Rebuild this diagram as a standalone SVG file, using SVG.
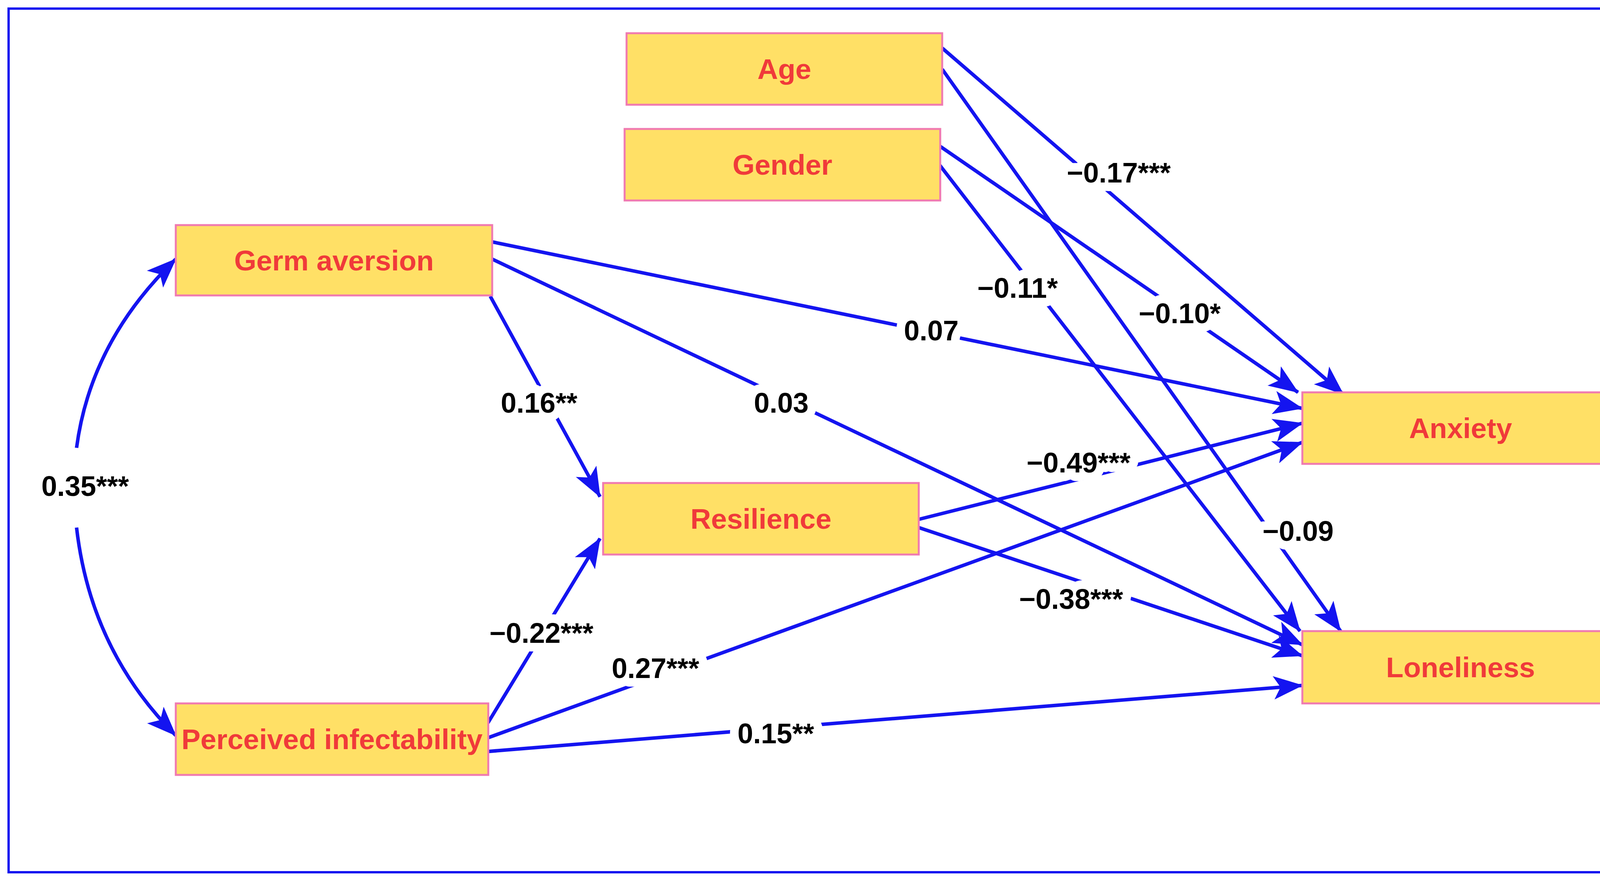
<svg xmlns="http://www.w3.org/2000/svg" width="4278" height="2257" viewBox="0 0 4278 2257">
<style>
.n rect{fill:#ffe066;stroke:#f07ab0;stroke-width:5}
.n text{font-family:"Liberation Sans",Arial,sans-serif;font-weight:bold;font-size:73px;fill:#f03a3a;text-anchor:middle;dominant-baseline:central}
.e path{fill:none;stroke:#1414f0;stroke-width:9}
.l text{font-family:"Liberation Sans",Arial,sans-serif;font-weight:bold;font-size:72px;fill:#000;text-anchor:middle;dominant-baseline:central;stroke:#fff;stroke-width:44;paint-order:stroke;stroke-linejoin:round}
</style>
<defs>
<marker id="a" markerUnits="userSpaceOnUse" markerWidth="76" markerHeight="60" refX="74" refY="30" orient="auto">
<path d="M0,0 L76,30 L0,60 L18,30 Z" fill="#1414f0"/>
</marker>
</defs>
<rect x="22" y="22" width="4228" height="2210" fill="#fff" stroke="#1414f0" stroke-width="6"/>
<g id="connectors" class="e">
<path d="M2412,123 L3439,1009" marker-end="url(#a)"/>
<path d="M2412,177 L3432,1615" marker-end="url(#a)"/>
<path d="M2406,374 L3323,1004" marker-end="url(#a)"/>
<path d="M2406,423 L3328,1615" marker-end="url(#a)"/>
<path d="M1260,619 L3334,1045" marker-end="url(#a)"/>
<path d="M1260,663 L3334,1650" marker-end="url(#a)"/>
<path d="M1255,758 L1536,1271" marker-end="url(#a)"/>
<path d="M2352,1329 L3334,1083" marker-end="url(#a)"/>
<path d="M2352,1350 L3334,1678" marker-end="url(#a)"/>
<path d="M1249,1850 L1536,1378" marker-end="url(#a)"/>
<path d="M1249,1888 L3334,1132" marker-end="url(#a)"/>
<path d="M1249,1923 L3334,1754" marker-end="url(#a)"/>
<path d="M196,1146 Q232,873 450,663" marker-end="url(#a)"/>
<path d="M196,1350 Q232,1664 450,1882" marker-end="url(#a)"/>
</g>
<g id="labels" class="l">
<text x="2864" y="442">−0.17***</text>
<text x="3323" y="1359">−0.09</text>
<text x="3020" y="802">−0.10*</text>
<text x="2605" y="737">−0.11*</text>
<text x="2384" y="846">0.07</text>
<text x="2000" y="1031">0.03</text>
<text x="1380" y="1031">0.16**</text>
<text x="2761" y="1184">−0.49***</text>
<text x="2742" y="1533">−0.38***</text>
<text x="1386" y="1620">−0.22***</text>
<text x="1678" y="1710">0.27***</text>
<text x="1986" y="1877">0.15**</text>
<text x="218" y="1244">0.35***</text>
</g>
<g id="age" class="n"><rect x="1604" y="85" width="808" height="183"/><text x="2008" y="176">Age</text></g>
<g id="gender" class="n"><rect x="1599" y="330" width="808" height="183"/><text x="2003" y="421">Gender</text></g>
<g id="germ" class="n"><rect x="450" y="576" width="810" height="180"/><text x="855" y="666">Germ aversion</text></g>
<g id="resilience" class="n"><rect x="1544" y="1236" width="808" height="183"/><text x="1948" y="1327">Resilience</text></g>
<g id="perceived" class="n"><rect x="450" y="1800" width="800" height="183"/><text x="850" y="1891">Perceived infectability</text></g>
<g id="anxiety" class="n"><rect x="3334" y="1004" width="810" height="183"/><text x="3739" y="1095">Anxiety</text></g>
<g id="loneliness" class="n"><rect x="3334" y="1615" width="810" height="185"/><text x="3739" y="1707">Loneliness</text></g>
</svg>
